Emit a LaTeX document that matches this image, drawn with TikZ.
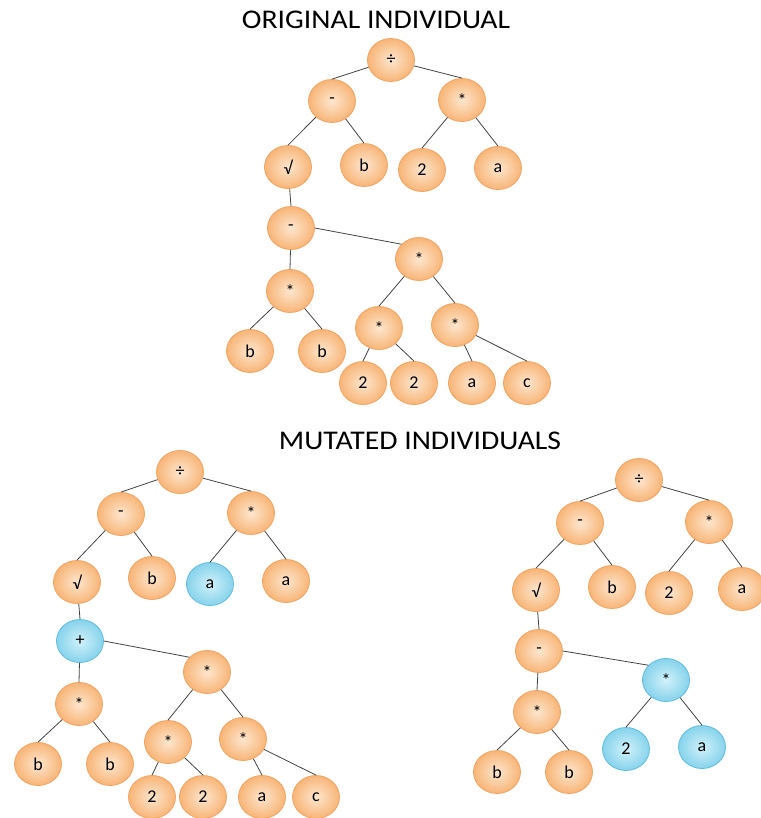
\documentclass[tikz,border=0pt]{standalone}
\usepackage{fontspec}
\setmainfont{Carlito}
\usetikzlibrary{shapes.geometric}

\definecolor{peachin}{HTML}{FDE6CF}
\definecolor{peachout}{HTML}{F8B577}
\definecolor{peachline}{HTML}{F2A463}
\definecolor{skyin}{HTML}{D2F1FA}
\definecolor{skyout}{HTML}{86D3EC}
\definecolor{skyline}{HTML}{62BEDE}
\definecolor{edgegray}{HTML}{444444}

\newcommand{\wide}[1]{\scalebox{1.1}[1]{#1}}

\tikzset{
  gene/.style={ellipse, draw=peachline, line width=0.8pt, inner color=peachin,
    outer color=peachout, minimum width=47pt, minimum height=43pt, inner sep=0pt,
    font=\fontsize{18}{18}\selectfont},
  mutant/.style={gene, draw=skyline, inner color=skyin, outer color=skyout},
  branch/.style={draw=edgegray, line width=0.8pt},
  heading/.style={font=\fontsize{27}{27}\selectfont, inner sep=0pt}
}

\begin{document}
\begin{tikzpicture}[x=1pt, y=-1pt]
  \path[use as bounding box, fill=white] (0,0) rectangle (760,818);

  % Original individual
  \node[heading] (ohead) at (376,20) {\wide{ORIGINAL INDIVIDUAL}};
  \node[gene] (oroot) at (391,60) {÷};
  \node[gene] (oL) at (332,101) {-};
  \node[gene] (oR) at (462,100) {*};
  \node[gene] (oLL) at (288,167) {√};
  \node[gene] (oLR) at (364,165) {b};
  \node[gene] (oRL) at (422,170) {2};
  \node[gene] (oRR) at (498,168) {a};
  \node[gene] (oS) at (291,228) {-};
  \node[gene] (oSL) at (290,291) {*};
  \node[gene] (oSR) at (419,259) {*};
  \node[gene] (oSLL) at (250,351) {b};
  \node[gene] (oSLR) at (322,351) {b};
  \node[gene] (oSRL) at (379,328) {*};
  \node[gene] (oSRR) at (455,325) {*};
  \node[gene] (oT1) at (363,383) {2};
  \node[gene] (oT2) at (414,383) {2};
  \node[gene] (oT3) at (472,383) {a};
  \node[gene] (oT4) at (527,383) {c};
  \draw[branch] (oroot) -- (oL.north);
  \draw[branch] (oroot) -- (oR.north);
  \draw[branch] (oL) -- (oLL.north);
  \draw[branch] (oL) -- (oLR.north);
  \draw[branch] (oR) -- (oRL.north);
  \draw[branch] (oR) -- (oRR.north);
  \draw[branch] (oLL) -- (oS.north);
  \draw[branch] (oS) -- (oSL.north);
  \draw[branch] (oS.east) -- (oSR.140);
  \draw[branch] (oSL) -- (oSLL.north);
  \draw[branch] (oSL) -- (oSLR.north);
  \draw[branch] (oSR) -- (oSRL.north);
  \draw[branch] (oSR) -- (oSRR.north);
  \draw[branch] (oSRL) -- (oT1.north);
  \draw[branch] (oSRL) -- (oT2.north);
  \draw[branch] (oSRR) -- (oT3.north);
  \draw[branch] (oSRR) -- (oT4.north);

  % Mutated individuals
  \node[heading] (mhead) at (420,441) {\wide{MUTATED INDIVIDUALS}};

  % first mutant
  \node[gene] (aroot) at (180,472) {÷};
  \node[gene] (aL) at (121,514) {-};
  \node[gene] (aR) at (251,513) {*};
  \node[gene] (aLL) at (77,582) {√};
  \node[gene] (aLR) at (152,578) {b};
  \node[mutant] (aRL) at (210,584) {a};
  \node[gene] (aRR) at (286,581) {a};
  \node[mutant] (aS) at (80,641) {+};
  \node[gene] (aSL) at (79,704) {*};
  \node[gene] (aSR) at (207,672) {*};
  \node[gene] (aSLL) at (38,764) {b};
  \node[gene] (aSLR) at (110,764) {b};
  \node[gene] (aSRL) at (168,742) {*};
  \node[gene] (aSRR) at (243,739) {*};
  \node[gene] (aT1) at (152,797) {2};
  \node[gene] (aT2) at (203,797) {2};
  \node[gene] (aT3) at (262,797) {a};
  \node[gene] (aT4) at (316,797) {c};
  \draw[branch] (aroot) -- (aL.north);
  \draw[branch] (aroot) -- (aR.north);
  \draw[branch] (aL) -- (aLL.north);
  \draw[branch] (aL) -- (aLR.north);
  \draw[branch] (aR) -- (aRL.north);
  \draw[branch] (aR) -- (aRR.north);
  \draw[branch] (aLL) -- (aS.north);
  \draw[branch] (aS) -- (aSL.north);
  \draw[branch] (aS.east) -- (aSR.140);
  \draw[branch] (aSL) -- (aSLL.north);
  \draw[branch] (aSL) -- (aSLR.north);
  \draw[branch] (aSR) -- (aSRL.north);
  \draw[branch] (aSR) -- (aSRR.north);
  \draw[branch] (aSRL) -- (aT1.north);
  \draw[branch] (aSRL) -- (aT2.north);
  \draw[branch] (aSRR) -- (aT3.north);
  \draw[branch] (aSRR) -- (aT4.north);

  % second mutant
  \node[gene] (broot) at (639,480) {÷};
  \node[gene] (bL) at (580,523) {-};
  \node[gene] (bR) at (709,522) {*};
  \node[gene] (bLL) at (536,590) {√};
  \node[gene] (bLR) at (612,587) {b};
  \node[gene] (bRL) at (669,593) {2};
  \node[gene] (bRR) at (742,589) {a};
  \node[gene] (bS) at (539,651) {-};
  \node[gene] (bSL) at (537,712) {*};
  \node[mutant] (bSR) at (666,680) {*};
  \node[gene] (bSLL) at (497,772) {b};
  \node[gene] (bSLR) at (569,772) {b};
  \node[mutant] (bSRL) at (626,749) {2};
  \node[mutant] (bSRR) at (702,747) {a};
  \draw[branch] (broot) -- (bL.north);
  \draw[branch] (broot) -- (bR.north);
  \draw[branch] (bL) -- (bLL.north);
  \draw[branch] (bL) -- (bLR.north);
  \draw[branch] (bR) -- (bRL.north);
  \draw[branch] (bR) -- (bRR.north);
  \draw[branch] (bLL) -- (bS.north);
  \draw[branch] (bS) -- (bSL.north);
  \draw[branch] (bS.east) -- (bSR.140);
  \draw[branch] (bSL) -- (bSLL.north);
  \draw[branch] (bSL) -- (bSLR.north);
  \draw[branch] (bSR) -- (bSRL.north);
  \draw[branch] (bSR) -- (bSRR.north);
\end{tikzpicture}
\end{document}
